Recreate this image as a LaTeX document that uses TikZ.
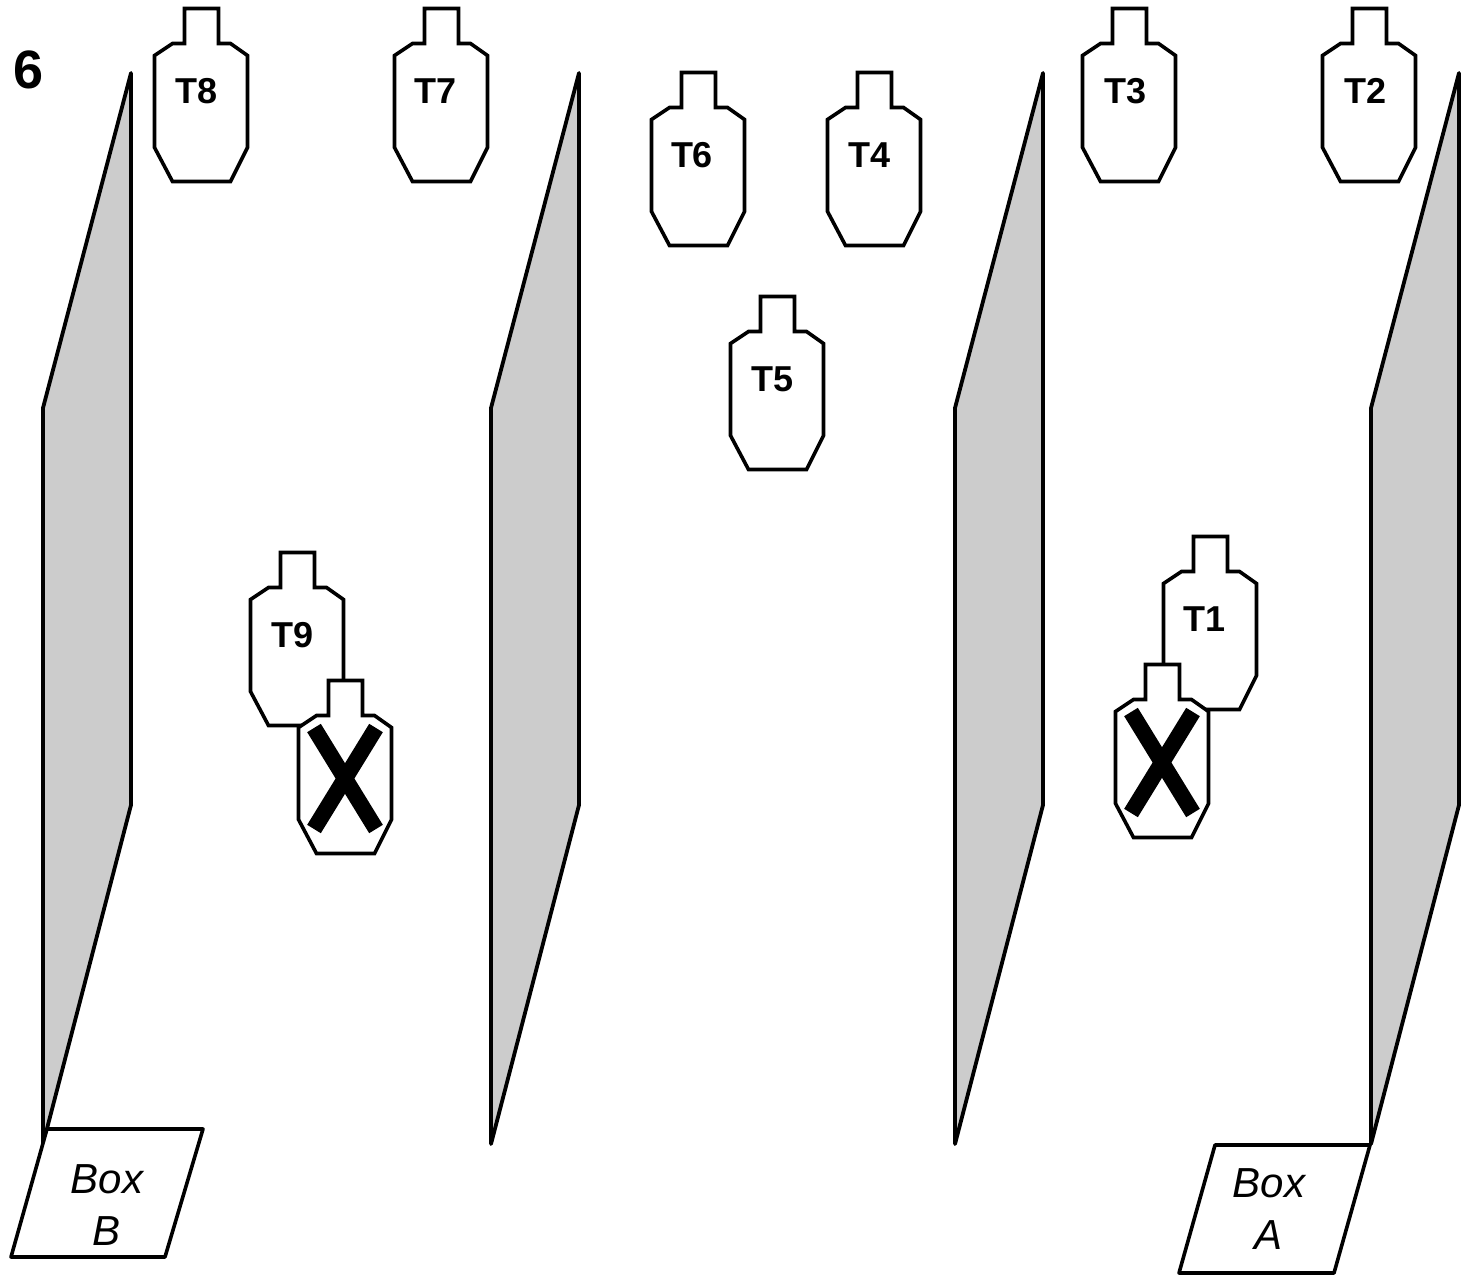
\documentclass[tikz,border=0pt]{standalone}
\usepackage{fontspec}
\setmainfont{Liberation Sans}
\definecolor{wallgray}{HTML}{CCCCCC}
\tikzset{
  wall/.style={draw,fill=wallgray,line width=3.8pt,line join=round},
  boxplate/.style={draw,fill=white,line width=3.6pt,line join=round},
  tlabel/.style={font=\fontsize{36}{36}\selectfont\bfseries,inner sep=0pt},
  boxlabel/.style={font=\fontsize{42}{42}\selectfont\itshape,inner sep=0pt},
  target/.pic={
    \draw[fill=white,line width=3.6pt] (30.5,.5) -- (64.5,.5) -- (64.5,35.5) -- (76.5,35.5) -- (93.5,47.5) -- (93.5,139.5)
      -- (76.5,173.5) -- (18.5,173.5) -- (.5,139.5) -- (.5,47.5) -- (18.5,35.5) -- (30.5,35.5) -- cycle;
  },
  crossed/.pic={
    \draw[line width=16pt] (16,48) -- (78,149);
    \draw[line width=16pt] (78,48) -- (16,149);
  }
}
\begin{document}
\begin{tikzpicture}[x=1pt,y=-1pt]
\useasboundingbox (0,0) rectangle (1461,1275);
\foreach \wx in {43,491,955,1371}
  \draw[wall] (\wx,408) -- (\wx+88,73) -- (\wx+88,805) -- (\wx,1144) -- cycle;
% top row
\pic at (154,8) {target};
\pic at (394,8) {target};
\pic at (651,72) {target};
\pic at (827,72) {target};
\pic at (730,296) {target};
\pic at (1082,8) {target};
\pic at (1322,8) {target};
% near the middle
\pic at (250,552) {target};
\pic at (1163,536) {target};
\pic at (298,680) {target};
\pic at (298,680) {crossed};
\pic at (1115,664) {target};
\pic at (1115,664) {crossed};
\node[tlabel] (t8) at (197,91) {T8};
\node[tlabel] (t7) at (436,91) {T7};
\node[tlabel] (t6) at (692,155) {T6};
\node[tlabel] (t4) at (869,155) {T4};
\node[tlabel] (t5) at (772,379) {T5};
\node[tlabel] (t3) at (1125,91) {T3};
\node[tlabel] (t2) at (1365,91) {T2};
\node[tlabel] (t9) at (293,635) {T9};
\node[tlabel] (t1) at (1204,619) {T1};
\node[font=\fontsize{54}{54}\selectfont\bfseries,inner sep=0pt] (sheet) at (29,70) {6};
% boxes
\draw[boxplate] (47,1129) -- (203,1129) -- (165,1257) -- (11,1257) -- cycle;
\draw[boxplate] (1215,1145) -- (1370,1145) -- (1334,1273) -- (1179,1273) -- cycle;
\node[boxlabel] (boxb1) at (107,1179) {Box};
\node[boxlabel] (boxb2) at (107,1231) {B};
\node[boxlabel] (boxa1) at (1269,1183) {Box};
\node[boxlabel] (boxa2) at (1268,1235) {A};
\end{tikzpicture}
\end{document}
